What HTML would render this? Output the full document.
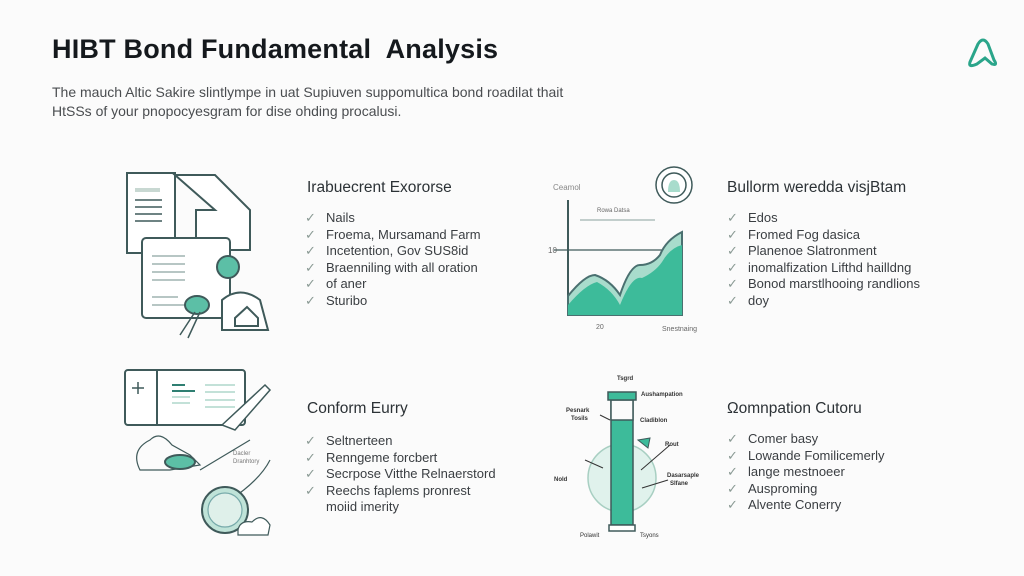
<!DOCTYPE html>
<html><head><meta charset="utf-8"><style>
body{margin:0;width:1024px;height:576px;background:#fbfbfb;font-family:"Liberation Sans",sans-serif;position:relative;overflow:hidden;color:#2b2f33}
.t{position:absolute;left:52px;top:34px;font-size:27px;font-weight:bold;color:#15191d;letter-spacing:0.2px}
.s{position:absolute;left:52px;top:83px;font-size:14px;line-height:19px;color:#4a4d50}
.h{position:absolute;font-size:15.5px;color:#2c3236}
.l{position:absolute;font-size:13px;line-height:16.6px;color:#3a3e42;margin:0;padding:0;list-style:none}
.l li span{color:#8a9a94;display:inline-block;width:21px}
svg{position:absolute;left:0;top:0}
</style></head><body>
<div class="t">HIBT Bond Fundamental&nbsp; Analysis</div>
<div class="s">The mauch Altic Sakire slintlympe in uat Supiuven suppomultica bond roadilat thait<br>HtSSs of your pnopocyesgram for dise ohding procalusi.</div>

<div class="h" style="left:307px;top:179px">Irabuecrent Exororse</div>
<ul class="l" style="left:305px;top:210px"><li><span>✓</span>Nails</li><li><span>✓</span>Froema, Mursamand Farm</li><li><span>✓</span>Incetention, Gov SUS8id</li><li><span>✓</span>Braenniling with all oration</li><li><span>✓</span>of aner</li><li><span>✓</span>Sturibo</li></ul>

<div class="h" style="left:727px;top:179px">Bullorm weredda visjBtam</div>
<ul class="l" style="left:727px;top:210px"><li><span>✓</span>Edos</li><li><span>✓</span>Fromed Fog dasica</li><li><span>✓</span>Planenoe Slatronment</li><li><span>✓</span>inomalfization Lifthd hailldng</li><li><span>✓</span>Bonod marstlhooing randlions</li><li><span>✓</span>doy</li></ul>

<div class="h" style="left:307px;top:400px">Conform Eurry</div>
<ul class="l" style="left:305px;top:433px"><li><span>✓</span>Seltnerteen</li><li><span>✓</span>Renngeme forcbert</li><li><span>✓</span>Secrpose Vitthe Relnaerstord</li><li><span>✓</span>Reechs faplems pronrest</li><li><span>&nbsp;</span>moiid imerity</li></ul>

<div class="h" style="left:727px;top:400px">Ωomnpation Cutoru</div>
<ul class="l" style="left:727px;top:431px"><li><span>✓</span>Comer basy</li><li><span>✓</span>Lowande Fomilicemerly</li><li><span>✓</span>lange mestnoeer</li><li><span>✓</span>Ausproming</li><li><span>✓</span>Alvente Conerry</li></ul>

<svg width="1024" height="576" fill="none" stroke="#3f5a5a" stroke-width="2">
<!-- logo -->
<path d="M970 62 L978 44 Q983 36 988 44 L994 60 Q998 66 992 64 L985 58 L977 64 Q968 68 970 62Z" stroke="#2aa58a" stroke-width="3"/>
<!-- section1 docs -->
<rect x="127" y="173" width="48" height="80" fill="#fff"/>
<rect x="135" y="188" width="25" height="4" fill="#c8d8d2" stroke="none"/>
<g stroke-width="1.5"><line x1="135" y1="200" x2="162" y2="200"/><line x1="135" y1="207" x2="162" y2="207"/><line x1="135" y1="214" x2="162" y2="214"/><line x1="135" y1="221" x2="162" y2="221"/></g>
<path d="M175 175 L215 175 L250 210 L250 250 L196 250 L196 210 L215 210 Z" fill="#fff"/>
<rect x="142" y="238" width="88" height="80" rx="4" fill="#fff"/>
<g stroke-width="1.5" stroke="#9fb3b0"><line x1="152" y1="256" x2="185" y2="256"/><line x1="152" y1="264" x2="185" y2="264"/><line x1="152" y1="272" x2="185" y2="272"/><line x1="152" y1="280" x2="185" y2="280"/><line x1="152" y1="297" x2="178" y2="297"/><line x1="152" y1="305" x2="185" y2="305"/></g>
<circle cx="228" cy="267" r="11" fill="#5cbfa6"/>
<ellipse cx="197" cy="305" rx="12" ry="9" fill="#5cbfa6"/>
<path d="M195 312 L180 335 M200 312 L188 338" stroke-width="1.5"/>
<path d="M222 330 L222 300 Q240 285 260 300 L268 330Z" fill="#fff"/>
<path d="M235 318 L247 307 L258 318 L258 326 L235 326Z"/>
<!-- section2 chart -->
<line x1="568" y1="200" x2="568" y2="315"/>
<line x1="568" y1="315" x2="672" y2="315"/>
<line x1="554" y1="250" x2="675" y2="250" stroke-width="1.2"/>
<line x1="580" y1="220" x2="655" y2="220" stroke-width="1.2" stroke="#9fb3b0"/>
<path d="M568 296 Q585 275 595 275 Q610 280 620 295 Q630 265 640 265 Q652 265 660 255 Q666 240 682 232 L682 315 L568 315Z" fill="#a8dccc" stroke="#4a7070"/>
<path d="M568 305 Q585 285 597 282 Q612 290 620 305 Q632 275 642 278 Q655 272 662 262 Q670 248 682 245 L682 315 L568 315Z" fill="#3dbb9a" stroke="none"/>
<text x="553" y="190" font-size="8" fill="#888" stroke="none">Ceamol</text>
<text x="548" y="253" font-size="8" fill="#666" stroke="none">10</text>
<text x="597" y="212" font-size="6" fill="#666" stroke="none">Rowa Datsa</text>
<text x="596" y="329" font-size="7" fill="#666" stroke="none">20</text>
<text x="662" y="331" font-size="7" fill="#666" stroke="none">Snestnaing</text>
<circle cx="674" cy="185" r="18" fill="#fff" stroke-width="1.5"/>
<circle cx="674" cy="185" r="12" stroke-width="1.5"/>
<path d="M668 192 Q668 180 674 180 Q680 180 680 192Z" fill="#a8dccc" stroke="none"/>
<!-- section3 -->
<rect x="125" y="370" width="120" height="55" rx="3" fill="#fff"/>
<line x1="157" y1="370" x2="157" y2="425"/>
<path d="M138 382 v12 M132 388 h12" stroke-width="1.5"/>
<g stroke-width="2" stroke="#2f7f72"><line x1="172" y1="385" x2="185" y2="385"/><line x1="172" y1="391" x2="195" y2="391"/></g>
<g stroke-width="1.2" stroke="#9fcfc0"><line x1="172" y1="397" x2="190" y2="397"/><line x1="172" y1="403" x2="190" y2="403"/><line x1="205" y1="385" x2="235" y2="385"/><line x1="205" y1="392" x2="235" y2="392"/><line x1="205" y1="400" x2="235" y2="400"/><line x1="205" y1="407" x2="235" y2="407"/></g>
<path d="M222 425 L265 385 L270 390 L235 430Z" fill="#fff" stroke-width="1.5"/>
<path d="M140 470 Q130 450 150 440 Q160 430 172 445 L190 455 L200 465 L170 470Z" stroke-width="1.2"/>
<ellipse cx="180" cy="462" rx="15" ry="7" fill="#5cbfa6"/>
<path d="M200 470 L250 440 M230 500 Q260 480 270 460" stroke-width="1.2"/>
<text x="233" y="455" font-size="6" fill="#777" stroke="none">Dacler</text>
<text x="233" y="463" font-size="6" fill="#777" stroke="none">Dranhtory</text>
<circle cx="225" cy="510" r="23" fill="#bfe3d8"/>
<circle cx="225" cy="510" r="17" fill="#dff0ea" stroke="#7aa" stroke-width="1.2"/>
<path d="M238 530 Q240 520 252 522 Q262 512 270 525 L268 535 L238 535Z" fill="#fff" stroke-width="1.2"/>
<!-- section4 -->
<circle cx="622" cy="478" r="34" fill="#e0f2ec" stroke="#a8cfc2" stroke-width="1.5"/>
<rect x="611" y="400" width="22" height="125" fill="#3dbb9a" stroke="#3f5a5a" stroke-width="1.5"/>
<rect x="611" y="400" width="22" height="20" fill="#fbfbfb" stroke="#3f5a5a" stroke-width="1.5"/>
<rect x="608" y="392" width="28" height="8" fill="#3dbb9a" stroke-width="1.5"/>
<rect x="609" y="525" width="26" height="6" fill="#fff" stroke-width="1.5"/>
<g stroke-width="1" stroke="#333"><line x1="585" y1="460" x2="603" y2="468"/><line x1="670" y1="445" x2="641" y2="470"/><line x1="668" y1="480" x2="642" y2="488"/><line x1="600" y1="415" x2="610" y2="420"/></g>
<g font-size="6" fill="#333" stroke="none" font-weight="bold"><text x="617" y="380">Tsgrd</text><text x="641" y="396">Aushampation</text><text x="566" y="412">Pesnark</text><text x="571" y="420">Tosils</text><text x="640" y="422">Cladiblon</text><text x="665" y="446">Rout</text><text x="554" y="481">Nold</text><text x="667" y="477">Dasarsaple</text><text x="670" y="485">Slfane</text><text x="580" y="537" font-weight="normal">Polawit</text><text x="640" y="537" font-weight="normal">Tsyons</text></g>
<path d="M638 440 L650 438 L648 448 Z" fill="#3dbb9a" stroke-width="1"/>
</svg>
</body></html>
